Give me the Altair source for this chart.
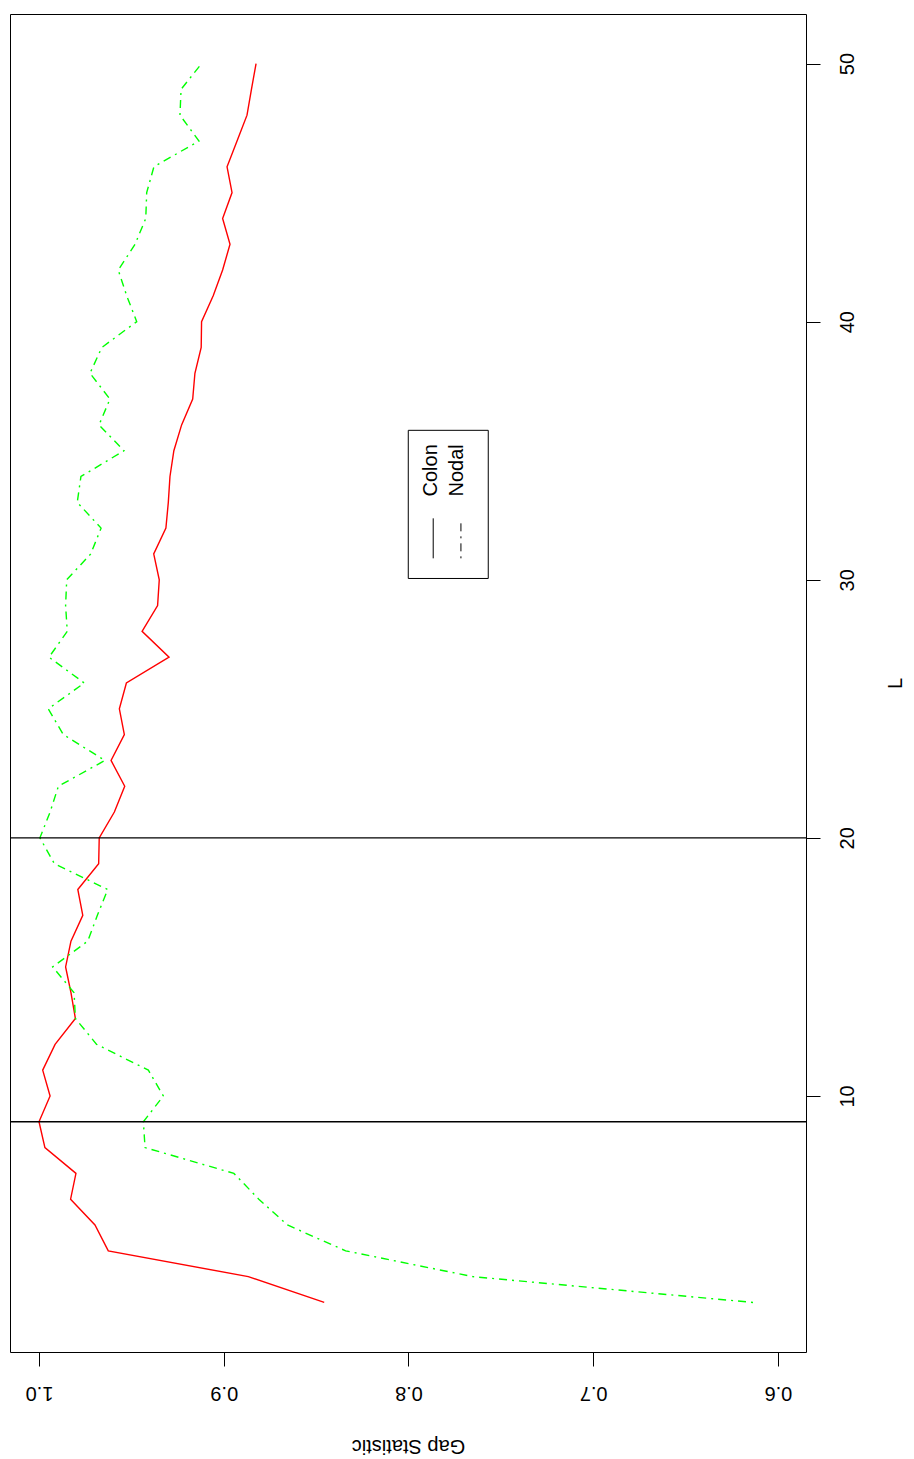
import altair as alt
import pandas as pd

L = list(range(2, 51))
colon = [0.8456, 0.8867, 0.9625, 0.9697, 0.9829, 0.9800, 0.9968, 1.0000, 0.9940,
         0.9980, 0.9913, 0.9803, 0.9827, 0.9856, 0.9827, 0.9763, 0.9790, 0.9677,
         0.9674, 0.9592, 0.9536, 0.9610, 0.9538, 0.9565, 0.9527, 0.9296, 0.9442,
         0.9358, 0.9349, 0.9379, 0.9313, 0.9300, 0.9291, 0.9270, 0.9228, 0.9168,
         0.9156, 0.9122, 0.9120, 0.9057, 0.9006, 0.8966, 0.9006, 0.8955, 0.8982,
         0.8928, 0.8874, 0.8850, 0.8825]
nodal = [0.6135, 0.7652, 0.8340, 0.8655, 0.8810, 0.8945, 0.9426, 0.9435, 0.9327,
         0.9408, 0.9688, 0.9803, 0.9810, 0.9926, 0.9736, 0.9684, 0.9628, 0.9917,
         0.9995, 0.9940, 0.9895, 0.9643, 0.9868, 0.9950, 0.9755, 0.9946, 0.9847,
         0.9856, 0.9850, 0.9720, 0.9664, 0.9793, 0.9773, 0.9540, 0.9675, 0.9616,
         0.9724, 0.9660, 0.9471, 0.9525, 0.9571, 0.9480, 0.9422, 0.9417, 0.9378,
         0.9134, 0.9237, 0.9231, 0.9120]
vlines = [9, 20]
gap_ticks = [0.6, 0.7, 0.8, 0.9, 1.0]
L_ticks = [10, 20, 30, 40, 50]
legend_labels = ["Colon", "Nodal"]

FONT = "Liberation Sans"
W, H = 796, 1338
xdom = [0.5848, 1.0157]
ydom = [0.08, 51.92]

xs = alt.Scale(domain=xdom, reverse=True, nice=False, zero=False)
ys = alt.Scale(domain=ydom, nice=False, zero=False)

df_c = pd.DataFrame({"L": L, "gap": colon})
df_n = pd.DataFrame({"L": L, "gap": nodal})

xenc = alt.X("gap:Q", scale=xs, title="Gap Statistic",
             axis=alt.Axis(orient="bottom", values=gap_ticks, format=".1f",
                           labelAngle=180, labelAlign="center", labelBaseline="middle",
                           tickSize=14, labelPadding=26, titleAngle=180,
                           titleBaseline="middle", titleY=93, titleX=W / 2,
                           titleAlign="center"))
yenc = alt.Y("L:Q", scale=ys, title="L",
             axis=alt.Axis(orient="right", values=L_ticks, format="d",
                           labelAngle=270, labelAlign="center", labelBaseline="middle",
                           tickSize=14, labelPadding=27, titleAngle=270,
                           titleBaseline="middle", titleX=89, titleY=H / 2,
                           titleAlign="center"))

line_c = alt.Chart(df_c).mark_line(color="#FF0000", strokeWidth=1.4).encode(
    x=xenc, y=yenc, order="L:Q")
line_n = alt.Chart(df_n).mark_line(color="#00FF00", strokeWidth=1.4,
                                   strokeDash=[2, 5, 8, 5]).encode(
    x=alt.X("gap:Q", scale=xs), y=alt.Y("L:Q", scale=ys), order="L:Q")

rules = alt.Chart(pd.DataFrame({"L": vlines})).mark_rule(
    color="black", strokeWidth=1.3).encode(y=alt.Y("L:Q", scale=ys))

# legend
leg_box = alt.Chart(pd.DataFrame({"x1": [0.8001], "x2": [0.7568],
                                  "y1": [30.05], "y2": [35.79]})).mark_rect(
    fill="white", stroke="black", strokeWidth=1).encode(
    x=alt.X("x1:Q", scale=xs), x2="x2:Q",
    y=alt.Y("y1:Q", scale=ys), y2="y2:Q")
leg_text = alt.Chart(pd.DataFrame({"x": [0.7878, 0.7737], "y": [34.24, 34.24],
                                   "t": legend_labels})).mark_text(
    angle=270, align="center", baseline="middle", font=FONT, fontSize=20,
    color="black").encode(
    x=alt.X("x:Q", scale=xs), y=alt.Y("y:Q", scale=ys), text="t:N")
leg_solid = alt.Chart(pd.DataFrame({"x": [0.7866], "y1": [30.83], "y2": [32.38]})).mark_rule(
    color="black", strokeWidth=1).encode(
    x=alt.X("x:Q", scale=xs), y=alt.Y("y1:Q", scale=ys), y2="y2:Q")
leg_dash = alt.Chart(pd.DataFrame({"x": [0.7716], "y1": [30.83], "y2": [32.38]})).mark_rule(
    color="black", strokeWidth=1, strokeDash=[2, 5, 8, 5]).encode(
    x=alt.X("x:Q", scale=xs), y=alt.Y("y1:Q", scale=ys), y2="y2:Q")

chart = alt.layer(line_c, line_n, rules, leg_box, leg_text, leg_solid, leg_dash).properties(
    width=W, height=H,
    autosize=alt.AutoSizeParams(type="none"),
    padding={"left": 2, "top": 6, "right": 100, "bottom": 110},
).configure_view(stroke="black", strokeWidth=1).configure_axis(
    grid=False, domain=False, tickColor="black", tickWidth=1,
    labelColor="black", titleColor="black", labelFont=FONT, titleFont=FONT,
    labelFontSize=20, titleFontSize=20, titleFontWeight="normal",
)

chart.save("out.html", embed_options={"renderer": "svg", "actions": False})
